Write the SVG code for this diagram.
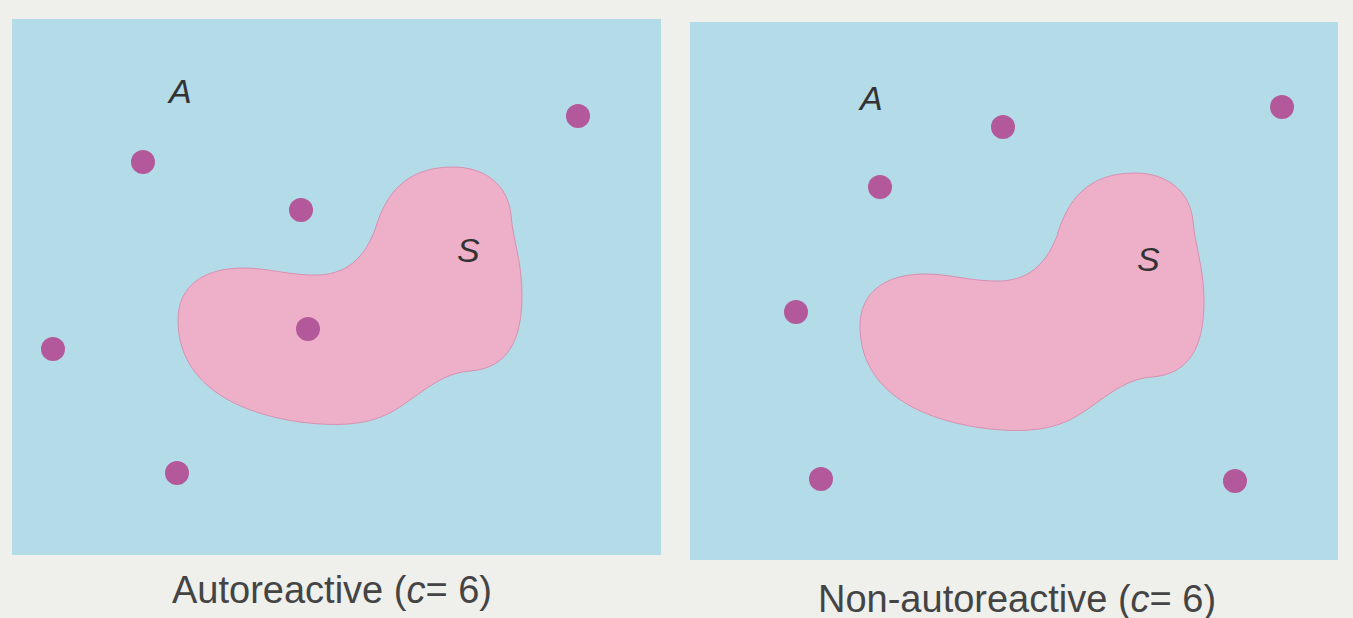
<svg xmlns="http://www.w3.org/2000/svg" width="1353" height="618" viewBox="0 0 1353 618">
<defs>
<style>
.panel{fill:#b4dbe8}
.blob{fill:#eeb0c8;stroke:#d890b0;stroke-width:1}
.dot{fill:#b3589a}
.lbl{font-family:"Liberation Sans",Arial,sans-serif;font-style:italic;font-size:34px;fill:#333}
.cap{font-family:"Liberation Sans",Arial,sans-serif;font-size:38px;fill:#444}
</style>
<path id="blobShape" d="M 453 167 C 485 167, 508 185, 511 215 C 513 240, 522 262, 522 295 C 522 340, 508 368, 470 371 C 440 373, 420 395, 395 410 C 370 425, 340 427, 300 422 C 230 412, 178 380, 178 320 C 178 285, 205 268, 243 268 C 270 268, 290 276, 320 275 C 350 273, 365 255, 375 230 C 385 195, 405 167, 453 167 Z"/>
</defs>
<rect width="1353" height="618" fill="#efefec"/>
<g id="panel-autoreactive">
<rect class="panel" x="12" y="19" width="649" height="536"/>
<use href="#blobShape" class="blob"/>
<text class="lbl" x="169" y="103">A</text>
<text class="lbl" x="457" y="262">S</text>
<circle class="dot" cx="143" cy="162" r="12"/>
<circle class="dot" cx="578" cy="116" r="12"/>
<circle class="dot" cx="301" cy="210" r="12"/>
<circle class="dot" cx="308" cy="329" r="12"/>
<circle class="dot" cx="53" cy="349" r="12"/>
<circle class="dot" cx="177" cy="473" r="12"/>
<text class="cap" x="172" y="603">Autoreactive (<tspan font-style="italic">c</tspan>= 6)</text>
</g>
<g id="panel-nonautoreactive">
<rect class="panel" x="690" y="22" width="648" height="538"/>
<use href="#blobShape" class="blob" transform="translate(682,6)"/>
<text class="lbl" x="860" y="110">A</text>
<text class="lbl" x="1137" y="271">S</text>
<circle class="dot" cx="1003" cy="127" r="12"/>
<circle class="dot" cx="1282" cy="107" r="12"/>
<circle class="dot" cx="880" cy="187" r="12"/>
<circle class="dot" cx="796" cy="312" r="12"/>
<circle class="dot" cx="821" cy="479" r="12"/>
<circle class="dot" cx="1235" cy="481" r="12"/>
<text class="cap" x="818" y="612">Non-autoreactive (<tspan font-style="italic">c</tspan>= 6)</text>
</g>
</svg>
